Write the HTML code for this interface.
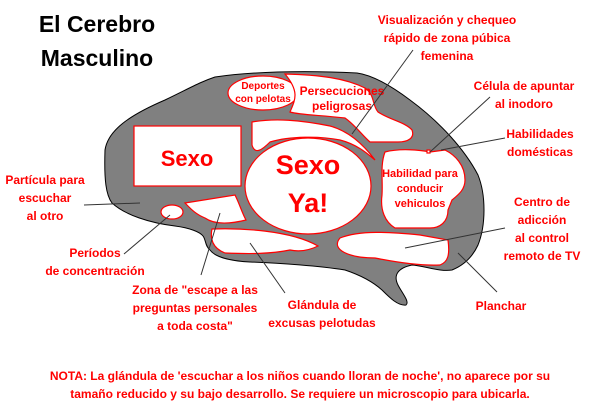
<!DOCTYPE html>
<html><head><meta charset="utf-8"><style>
html,body{margin:0;padding:0;background:#fff;width:600px;height:412px;overflow:hidden}
svg{display:block}
text{font-family:"Liberation Sans",Arial,sans-serif;font-weight:bold}
.r{fill:#f00;font-size:12px;text-anchor:middle}
</style></head><body>
<svg width="600" height="412" viewBox="0 0 600 412">
<text x="97" y="32" font-size="23" text-anchor="middle" fill="#000">El Cerebro</text>
<text x="97" y="66" font-size="23" text-anchor="middle" fill="#000">Masculino</text>
<path d="M105,150 C108,130 130,115 165,100 C190,88 200,82 215,77 C250,72 300,70 357,73 C372,75 390,85 410,100 C440,122 465,150 478,175 C486,195 486,225 478,245 C472,258 462,266 452,270 C440,272 425,266 412,265 C398,268 393,275 398,285 C402,293 410,302 406,305 C398,306 390,298 382,290 C372,281 360,275 345,270 C320,266 280,263 250,262 C230,261 215,257 210,250 C205,246 206,240 203,236 C200,232 190,228 175,226 C150,223 125,215 112,203 C106,195 104,180 105,150 Z" fill="#808080" stroke="#000" stroke-width="1"/>
<g fill="#fff" stroke="#f00" stroke-width="1.2">
<rect x="134" y="126" width="107" height="60"/>
<ellipse cx="263" cy="93" rx="35" ry="17"/>
<path d="M285,74 C320,75 345,78 365,88 C375,95 372,105 378,112 C390,120 405,122 412,130 C415,138 408,142 398,142 L370,142 C362,135 355,125 345,118 C320,115 300,115 290,112 C295,100 300,92 285,74 Z"/>
<path d="M252,122 C275,118 300,120 330,126 C345,130 360,140 375,160 C372,158 360,145 340,140 C320,136 290,136 270,142 C262,150 255,155 252,145 Z"/>
<ellipse cx="308" cy="186" rx="63" ry="48"/>
<path d="M385,152 C400,148 420,150 430,152 L445,150 C455,155 465,165 465,180 C465,190 458,195 452,200 L448,210 C448,222 440,228 430,228 L395,228 C385,222 380,210 382,195 C383,180 380,165 385,152 Z"/>
<path d="M340,238 C360,230 390,232 420,235 L448,240 C450,255 448,262 440,265 C420,266 395,262 375,258 C350,258 330,250 340,238 Z"/>
<path d="M212,229 C240,228 290,230 318,246 C310,250 300,252 290,250 C270,254 250,254 225,253 C212,248 210,238 212,229 Z"/>
<path d="M185,203 L235,195 C240,205 242,213 246,220 C230,224 215,225 205,218 C195,214 190,208 185,203 Z"/>
<ellipse cx="172" cy="212" rx="11" ry="7"/>
<rect x="427" y="150" width="3" height="3"/>
</g>
<text x="187" y="166" font-size="22" fill="#f00" text-anchor="middle">Sexo</text>
<text x="308" y="174" font-size="27" fill="#f00" text-anchor="middle">Sexo</text>
<text x="308" y="212" font-size="27" fill="#f00" text-anchor="middle">Ya!</text>
<text class="r" x="263" y="89" style="font-size:10px">Deportes</text>
<text class="r" x="263" y="102" style="font-size:10px">con pelotas</text>
<text class="r" x="342" y="95">Persecuciones</text>
<text class="r" x="342" y="110">peligrosas</text>
<text class="r" x="420" y="177" style="font-size:11px">Habilidad para</text>
<text class="r" x="420" y="192" style="font-size:11px">conducir</text>
<text class="r" x="420" y="207" style="font-size:11px">vehiculos</text>
<g stroke="#333" stroke-width="1" fill="none">
<line x1="413" y1="50" x2="352" y2="134"/>
<line x1="490" y1="97" x2="430" y2="152"/>
<line x1="505" y1="138" x2="441" y2="150"/>
<line x1="84" y1="205" x2="140" y2="203"/>
<line x1="124" y1="254" x2="170" y2="215"/>
<line x1="201" y1="275" x2="220" y2="213"/>
<line x1="285" y1="293" x2="250" y2="243"/>
<line x1="505" y1="228" x2="405" y2="248"/>
<line x1="497" y1="292" x2="458" y2="253"/>
</g>
<text class="r" x="447" y="24">Visualización y chequeo</text>
<text class="r" x="447" y="42">rápido de zona púbica</text>
<text class="r" x="447" y="60">femenina</text>
<text class="r" x="524" y="90">Célula de apuntar</text>
<text class="r" x="524" y="108">al inodoro</text>
<text class="r" x="540" y="138">Habilidades</text>
<text class="r" x="540" y="156">domésticas</text>
<text class="r" x="542" y="206">Centro de</text>
<text class="r" x="542" y="224">adicción</text>
<text class="r" x="542" y="242">al control</text>
<text class="r" x="542" y="260">remoto de TV</text>
<text class="r" x="501" y="310">Planchar</text>
<text class="r" x="45" y="184">Partícula para</text>
<text class="r" x="45" y="202">escuchar</text>
<text class="r" x="45" y="220">al otro</text>
<text class="r" x="95" y="257">Períodos</text>
<text class="r" x="95" y="275">de concentración</text>
<text class="r" x="195" y="294">Zona de "escape a las</text>
<text class="r" x="195" y="312">preguntas personales</text>
<text class="r" x="195" y="330">a toda costa"</text>
<text class="r" x="322" y="309">Glándula de</text>
<text class="r" x="322" y="327">excusas pelotudas</text>
<text class="r" x="300" y="380">NOTA: La glándula de 'escuchar a los niños cuando lloran de noche', no aparece por su</text>
<text class="r" x="300" y="398">tamaño reducido y su bajo desarrollo. Se requiere un microscopio para ubicarla.</text>
</svg>
</body></html>
